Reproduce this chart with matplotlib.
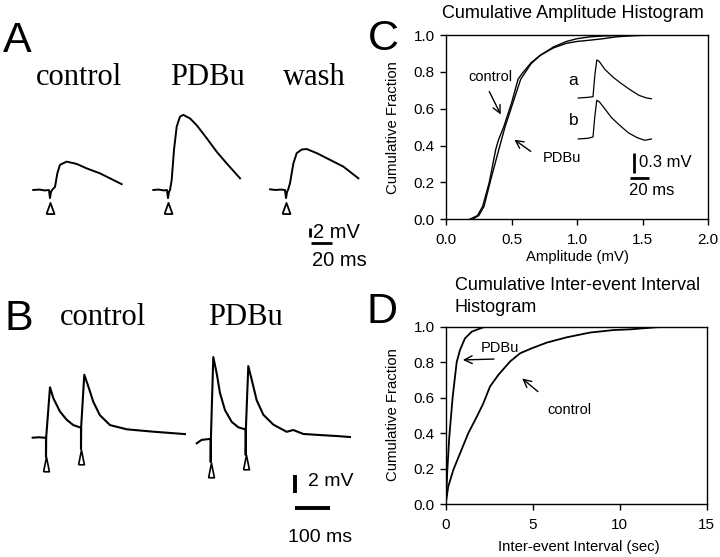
import numpy as np
import matplotlib
matplotlib.use('Agg')
import matplotlib.pyplot as plt

plt.rcParams['font.family'] = ['Liberation Sans', 'DejaVu Sans']

W, H = 720, 557   # figure size in pixels

# ---------------- data ----------------
# panel A: single EPSPs, time (ms) from stimulus, voltage (mV) from baseline
a_ctrl_t = [-16, -10, -5, -1, 0, 1, 2, 4.8, 7, 9.5, 15.9, 25.4, 35, 47.6, 57.1, 68.3]
a_ctrl_v = [0, 0.1, -0.1, 0, -1.8, -0.4, 0, 0.7, 3.7, 5.6, 6.3, 5.8, 4.8, 3.7, 2.6, 1.3]
a_pdbu_t = [-14, -9, -4, -1, 0, 1, 1.9, 3.5, 5.7, 8.3, 11.4, 14.6, 21, 27.3, 36.9, 46.4, 55.9, 68.6]
a_pdbu_v = [0, 0.1, -0.1, 0, -1.8, -0.4, 0, 2.2, 8.9, 14.1, 16.3, 16.7, 15.9, 14.4, 11.5, 8.5, 5.9, 2.6]
a_wash_t = [-15.2, -10, -5, -1, 0, 1, 1.9, 3.8, 7, 10.2, 15, 19.7, 29.2, 41.9, 54.6, 68.9]
a_wash_v = [0.15, 0, 0.1, 0, -1.8, -0.4, 0, 1.5, 5.9, 8.2, 9.0, 9.1, 8.2, 6.7, 5.2, 2.6]
a_labels = ['control', 'PDBu', 'wash']

# panel B: paired-pulse EPSPs (100 ms interval)
b_ctrl_t = [-38, -20, -6, 0, 0, 0.5, 11.4, 20.9, 40, 59, 78, 97, 100, 100, 100.5,
            109.4, 120.9, 135, 154, 183, 231, 306, 397]
b_ctrl_v = [0, 0.05, 0, 0, -2.14, 0, 5.6, 4.4, 2.9, 2.0, 1.4, 1.15, 1.15, -1.26, 1.2,
            7.0, 5.7, 4.0, 2.5, 1.4, 0.93, 0.67, 0.4]
b_pdbu_t = [-40, -26, -4, 0, 0, 0.5, 7.4, 17.1, 26.6, 40.9, 60, 78.9, 98, 100, 100, 100.5,
            107.4, 117.1, 131.4, 150.3, 178.9, 217, 236, 264.6, 312, 360, 398]
b_pdbu_v = [-0.48, -0.1, 0, 0, -2.56, 0, 9.1, 7.3, 5.1, 3.2, 1.9, 1.3, 1.08, 1.08, -1.78, 1.1,
            8.1, 6.6, 4.3, 2.7, 1.6, 0.8, 1.0, 0.56, 0.44, 0.33, 0.22]
b_stim_t = [0, 100]
b_ctrl_tri = [-2.97, -2.09]
b_pdbu_tri = [-3.39, -2.61]
b_labels = ['control', 'PDBu']

# panel C: cumulative amplitude distributions
amp_ctrl_x = [0.18, 0.24, 0.28, 0.33, 0.38, 0.40, 0.44, 0.50, 0.55, 0.58, 0.65, 0.72,
              0.82, 0.92, 1.0, 1.1, 1.2, 1.4, 1.6, 2.0]
amp_ctrl_y = [0, 0.02, 0.07, 0.20, 0.38, 0.43, 0.50, 0.63, 0.76, 0.79, 0.85, 0.89,
              0.935, 0.965, 0.98, 0.99, 0.995, 0.998, 1.0, 1.0]
amp_pdbu_x = [0.20, 0.25, 0.29, 0.34, 0.40, 0.45, 0.51, 0.57, 0.65, 0.72, 0.82, 0.92,
              1.0, 1.1, 1.2, 1.3, 1.4, 1.5, 1.7, 2.0]
amp_pdbu_y = [0, 0.02, 0.07, 0.21, 0.37, 0.50, 0.63, 0.76, 0.845, 0.89, 0.93, 0.955,
              0.965, 0.972, 0.98, 0.99, 0.995, 0.998, 1.0, 1.0]
# inset averaged events a, b
ins_a_t = [0, 10, 15.5, 17.5, 19.5, 22, 28, 36, 45, 55, 64, 72, 77]
ins_a_v = [0, 0.01, 0.02, 0.35, 0.57, 0.55, 0.43, 0.32, 0.22, 0.12, 0.04, 0.0, -0.01]
ins_b_t = [0, 10, 15.5, 17.5, 19.5, 22, 27, 35, 44, 53, 62, 70, 77]
ins_b_v = [0, 0.01, 0.03, 0.35, 0.58, 0.56, 0.47, 0.32, 0.2, 0.09, 0.02, -0.02, 0]

# panel D: cumulative inter-event interval distributions
iei_ctrl_x = [0, 0.13, 0.42, 0.81, 1.28, 1.77, 2.15, 2.53, 3.01, 3.68, 4.26, 4.93, 5.79,
              6.94, 8.29, 9.63, 10.59, 12.12, 13.46, 15]
iei_ctrl_y = [0.013, 0.098, 0.192, 0.286, 0.399, 0.492, 0.568, 0.662, 0.728, 0.803, 0.85,
              0.878, 0.91, 0.94, 0.967, 0.981, 0.985, 0.997, 1.0, 1.0]
iei_pdbu_x = [0, 0.075, 0.19, 0.385, 0.615, 0.806, 1.09, 1.48, 2.15, 2.72, 15]
iei_pdbu_y = [0.013, 0.19, 0.38, 0.605, 0.80, 0.869, 0.934, 0.972, 0.997, 1.0, 1.0]


def box(x0, y0, x1, y1):
    return [x0 / W, 1 - y1 / H, (x1 - x0) / W, (y1 - y0) / H]


def ftext(x, y, s, **kw):
    fig.text(x / W, 1 - y / H, s, **kw)


fig = plt.figure(figsize=(W / 100, H / 100), dpi=100)

serif = ['Liberation Serif', 'DejaVu Serif']
tri_wide = [(-0.36, -0.5), (0.36, -0.5), (0, 0.5), (-0.36, -0.5)]
tri_thin = [(-0.2, -0.5), (0.2, -0.5), (0, 0.5), (-0.2, -0.5)]

# ---------------- panel A ----------------
axA = fig.add_axes(box(0, 90, 360, 280))
axA.set_xlim(0, 360 / 1.05)
axA.set_ylim(-20, 100 / 4.5)
axA.axis('off')
a_off = [47.6, 160.0, 272.4]
for (t, v), off in zip([(a_ctrl_t, a_ctrl_v), (a_pdbu_t, a_pdbu_v), (a_wash_t, a_wash_v)], a_off):
    axA.plot(np.array(t) + off, v, color='black', lw=1.4)
axA.plot(a_off, [-4.1] * 3, ls='none', marker=tri_wide, ms=8, mfc='white', mec='black', mew=1.3)
axA.plot([295.7, 295.7], [-8.45, -10.45], color='black', lw=2.0, solid_capstyle='butt')
axA.plot([296.2, 316.2], [-11.78, -11.78], color='black', lw=2.0, solid_capstyle='butt')
axA.text(297.8, -9.4, '2 mV', fontsize=14.5, ha='left', va='center')
axA.text(296.9, -15.7, '20 ms', fontsize=14.5, ha='left', va='center')
for x, s in zip([79, 207, 314], a_labels):
    ftext(x, 85, s, fontsize=22, family=serif, ha='center', va='baseline')
ftext(3, 52, 'A', fontsize=31, ha='left', va='baseline')

# ---------------- panel B ----------------
axB = fig.add_axes(box(0, 330, 360, 530))
axB.set_xlim(0, 360 / 0.35)
axB.set_ylim((437.7 - 530) / 9, (437.7 - 330) / 9)
axB.axis('off')
b_off = [131.4, 602.0]
b_base = [0, -0.144]
for (t, v), off, base, tri in zip([(b_ctrl_t, b_ctrl_v), (b_pdbu_t, b_pdbu_v)], b_off, b_base,
                                  [b_ctrl_tri, b_pdbu_tri]):
    axB.plot(np.array(t) + off, np.array(v) + base, color='black', lw=1.5)
    axB.plot(np.array(b_stim_t) + off, np.array(tri) + base, ls='none', marker=tri_thin, ms=10.5,
             mfc='white', mec='black', mew=1.2)
axB.plot([842.9, 842.9], [-4.14, -6.14], color='black', lw=2.8, solid_capstyle='butt')
axB.plot([842.9, 942.9], [-7.8, -7.8], color='black', lw=2.8, solid_capstyle='butt')
axB.text(880, -4.9, '2 mV', fontsize=14, ha='left', va='center')
axB.text(914, -11.1, '100 ms', fontsize=14, ha='center', va='center')
for x, s in zip([103, 245], b_labels):
    ftext(x, 325, s, fontsize=22, family=serif, ha='center', va='baseline')
ftext(5, 330, 'B', fontsize=31, ha='left', va='baseline')


def style_axes(ax):
    for sp in ax.spines.values():
        sp.set_linewidth(1.0)
    ax.tick_params(direction='out', length=4, width=1, labelsize=11, pad=4)
    ax.tick_params(axis='x', pad=6)


# ---------------- panel C ----------------
axC = fig.add_axes(box(446, 35, 708, 219.3))
axC.plot(amp_ctrl_x, amp_ctrl_y, color='black', lw=1.0)
axC.plot(amp_pdbu_x, amp_pdbu_y, color='black', lw=1.0)
axC.set_xlim(0, 2)
axC.set_ylim(0, 1)
axC.set_xticks(np.arange(0, 2.01, 0.5))
axC.set_yticks(np.arange(0, 1.01, 0.2))
axC.xaxis.set_major_formatter(plt.FormatStrFormatter('%.1f'))
axC.yaxis.set_major_formatter(plt.FormatStrFormatter('%.1f'))
style_axes(axC)
axC.set_xlabel('Amplitude (mV)', fontsize=10.7, va='center')
axC.xaxis.set_label_coords(0.5, -0.205)
axC.set_ylabel('Cumulative Fraction', fontsize=10.7, va='center')
axC.yaxis.set_label_coords(-0.202, 0.5)
axC.text(0.336, 0.772, 'control', fontsize=10.5, ha='center', va='center')
axC.annotate('', xy=(0.427, 0.555), xytext=(0.321, 0.707),
             arrowprops=dict(arrowstyle='->', lw=1.0, color='black', mutation_scale=14))
axC.text(0.885, 0.333, 'PDBu', fontsize=10.5, ha='center', va='center')
axC.annotate('', xy=(0.504, 0.441), xytext=(0.664, 0.36),
             arrowprops=dict(arrowstyle='->', lw=1.0, color='black', mutation_scale=14))
ftext(573, 18, 'Cumulative Amplitude Histogram', fontsize=13, ha='center', va='baseline')
ftext(368, 50, 'C', fontsize=31, ha='left', va='baseline')

# inset traces
axI = fig.add_axes(box(570, 50, 700, 200))
axI.set_xlim(0, 130 / 0.95)
axI.set_ylim(-150 / 66.7, 0)
axI.axis('off')
axI.plot(np.array(ins_a_t) + 8.7, np.array(ins_a_v) - 0.72, color='black', lw=0.9)
axI.plot(np.array(ins_b_t) + 8.7, np.array(ins_b_v) - 1.334, color='black', lw=0.9)
axI.text(3.5, -0.45, 'a', fontsize=12.5, ha='center', va='center')
axI.text(3.5, -1.06, 'b', fontsize=12.5, ha='center', va='center')
axI.plot([67.4, 67.4], [-1.549, -1.849], color='black', lw=2.0, solid_capstyle='butt')
axI.plot([63.2, 83.2], [-1.924, -1.924], color='black', lw=2.0, solid_capstyle='butt')
axI.text(72.6, -1.694, '0.3 mV', fontsize=12, ha='left', va='center')
axI.text(62.1, -2.109, '20 ms', fontsize=12, ha='left', va='center')

# ---------------- panel D ----------------
axD = fig.add_axes(box(446, 326.7, 706.7, 504))
axD.plot(iei_ctrl_x, iei_ctrl_y, color='black', lw=1.3)
axD.plot(iei_pdbu_x, iei_pdbu_y, color='black', lw=1.3)
axD.set_xlim(0, 15)
axD.set_ylim(0, 1)
axD.set_xticks([0, 5, 10, 15])
axD.set_yticks(np.arange(0, 1.01, 0.2))
axD.yaxis.set_major_formatter(plt.FormatStrFormatter('%.1f'))
style_axes(axD)
axD.set_xlabel('Inter-event Interval (sec)', fontsize=10.7, va='center')
axD.xaxis.set_label_coords(0.51, -0.2425)
axD.set_ylabel('Cumulative Fraction', fontsize=10.7, va='center')
axD.yaxis.set_label_coords(-0.203, 0.502)
axD.text(3.11, 0.878, 'PDBu', fontsize=10.5, ha='center', va='center')
axD.annotate('', xy=(0.81, 0.812), xytext=(2.92, 0.818),
             arrowprops=dict(arrowstyle='->', lw=1.0, color='black', mutation_scale=14))
axD.text(7.13, 0.53, 'control', fontsize=10.5, ha='center', va='center')
axD.annotate('', xy=(4.26, 0.718), xytext=(5.41, 0.624),
             arrowprops=dict(arrowstyle='->', lw=1.0, color='black', mutation_scale=14))
ftext(455, 290, 'Cumulative Inter-event Interval', fontsize=13, ha='left', va='baseline')
ftext(455, 311.7, 'Histogram', fontsize=13, ha='left', va='baseline')
ftext(367, 323, 'D', fontsize=31, ha='left', va='baseline')

fig.savefig('out.png', dpi=100)
